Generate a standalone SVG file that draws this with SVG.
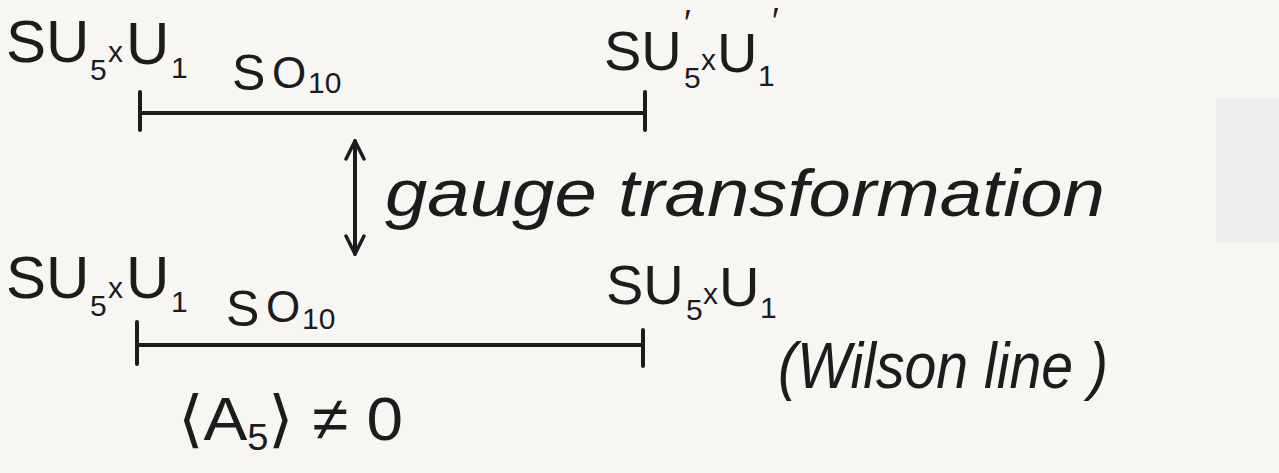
<svg xmlns="http://www.w3.org/2000/svg" width="1279" height="473" viewBox="0 0 1279 473">
<style>
.ink{fill:#1c1c1c;font-family:"Liberation Sans",Arial,sans-serif;font-size:60px}
.r{font-size:56px}
.mid{font-size:50px}
.o{font-size:44px}
.s{font-size:30px}
.p{font-size:36px}
.hand{font-style:italic}
.bar{stroke:#1c1c1c;stroke-width:4;stroke-linecap:round;fill:none}
</style>
<defs>
<marker id="vhead" viewBox="0 0 22 22" refX="20" refY="11" markerWidth="22" markerHeight="22" markerUnits="userSpaceOnUse" orient="auto-start-reverse">
<path d="M2,2 L20,11 L2,20" fill="none" stroke="#1c1c1c" stroke-width="3.5" stroke-linecap="round" stroke-linejoin="round"/>
</marker>
</defs>
<rect width="1279" height="473" fill="#f8f6f3"/>
<rect x="1216" y="98" width="63" height="145" fill="#efeeec"/>

<g id="top-left-label">
<text class="ink" x="6" y="62">SU<tspan class="s" x="90" y="80">5</tspan><tspan class="s" x="108" y="62">x</tspan><tspan x="126" y="64">U</tspan><tspan class="s" x="171" y="78">1</tspan></text>
</g>
<g id="top-middle-label">
<text class="ink mid" x="232" y="90">S<tspan class="o" x="272" y="88">O</tspan><tspan class="s" x="308" y="93">10</tspan></text>
</g>
<g id="top-right-label">
<text class="ink r" x="604" y="70">SU<tspan class="p" x="684" y="36">′</tspan><tspan class="s" x="684" y="88">5</tspan><tspan class="s" x="701" y="70">x</tspan><tspan x="717" y="72">U</tspan><tspan class="s" x="758" y="86">1</tspan><tspan class="p" x="772" y="34">′</tspan></text>
</g>

<g id="bottom-left-label">
<text class="ink" x="6" y="298">SU<tspan class="s" x="90" y="316">5</tspan><tspan class="s" x="108" y="298">x</tspan><tspan x="126" y="298">U</tspan><tspan class="s" x="171" y="312">1</tspan></text>
</g>
<g id="bottom-middle-label">
<text class="ink mid" x="226" y="326">S<tspan class="o" x="266" y="322">O</tspan><tspan class="s" x="302" y="329">10</tspan></text>
</g>
<g id="bottom-right-label">
<text class="ink r" x="606" y="304">SU<tspan class="s" x="686" y="320">5</tspan><tspan class="s" x="703" y="304">x</tspan><tspan x="719" y="306">U</tspan><tspan class="s" x="760" y="318">1</tspan></text>
</g>
<g id="wilson-label">
<text class="ink hand" x="778" y="388" textLength="330" lengthAdjust="spacingAndGlyphs" style="font-size:64px">(Wilson line )</text>
</g>
<g id="vev-label">
<text class="ink" x="178" y="440" textLength="225" lengthAdjust="spacingAndGlyphs" style="font-size:62px">⟨A<tspan style="font-size:36px" dy="10">5</tspan><tspan dy="-10">⟩ ≠ 0</tspan></text>
</g>
<g id="gauge-label">
<text class="ink hand" x="385" y="216" textLength="720" lengthAdjust="spacingAndGlyphs" style="font-size:66px">gauge transformation</text>
</g>

<g id="connectors">
<path class="bar" d="M140,113 L645,113 M140,92 L140,130 M645,92 L645,130"/>
<path class="bar" d="M137,345 L643,345 M137,322 L137,364 M643,330 L643,366"/>
<line class="bar" x1="355" y1="141" x2="355" y2="254" marker-start="url(#vhead)" marker-end="url(#vhead)"/>
</g>
</svg>
